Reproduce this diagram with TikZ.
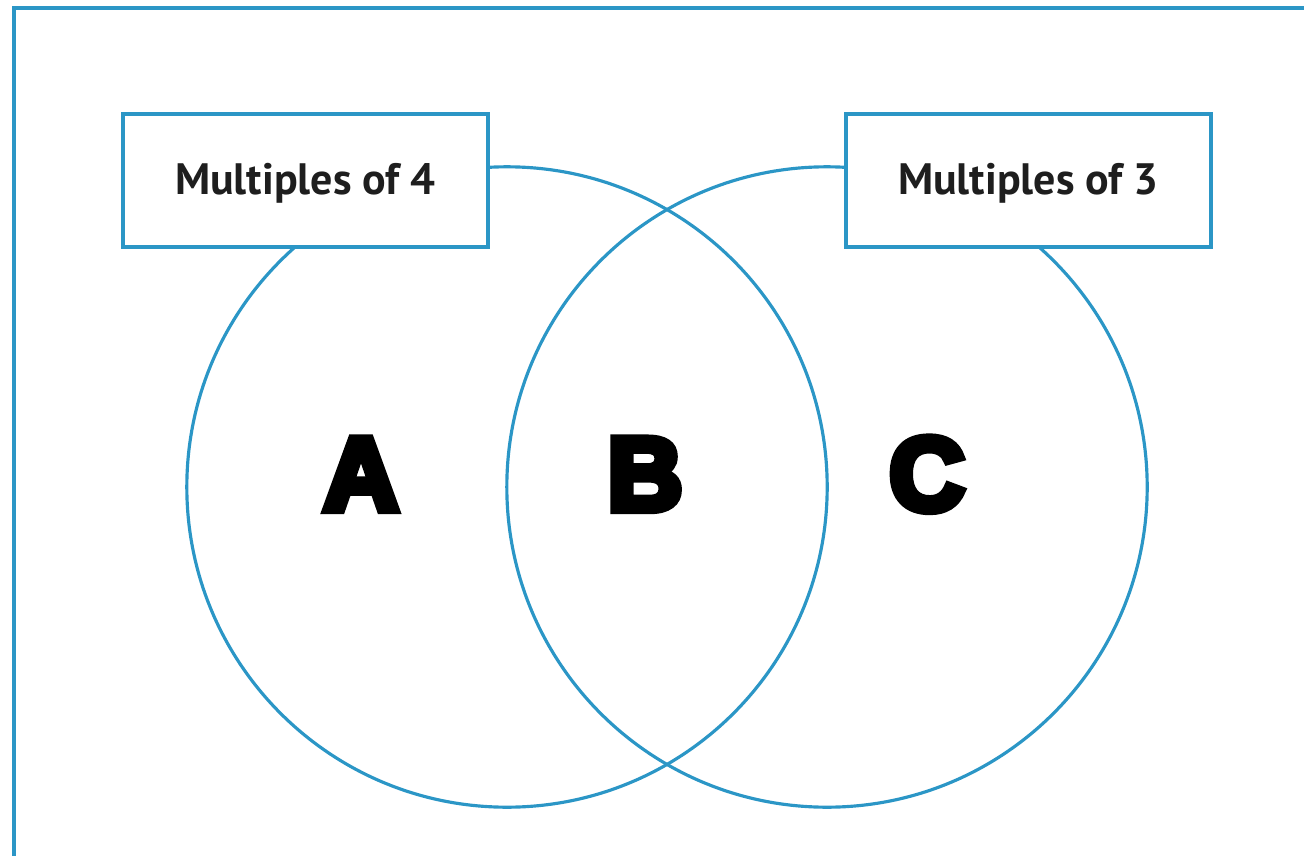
\documentclass[tikz,border=0pt]{standalone}
\usepackage{fontspec}
\setmainfont{PT Sans}
\newfontfamily\letterfont[FakeBold=8]{Liberation Sans Bold}
\usetikzlibrary{positioning}
\definecolor{vennblue}{RGB}{43,150,198}
\definecolor{labelink}{RGB}{30,30,30}

\begin{document}
\begin{tikzpicture}[x=0.01cm, y=-0.01cm,
  set/.style={draw=vennblue, line width=0.9pt, circle, minimum size=6.4cm, inner sep=0pt},
  setlabel/.style={draw=vennblue, line width=1pt, fill=white, minimum width=3.65cm,
    minimum height=1.33cm, inner sep=0pt, text=labelink, text height=8.2pt, text depth=0pt,
    font=\fontsize{12.5}{14}\selectfont\bfseries},
  region/.style={anchor=base, font=\letterfont\fontsize{29.5}{30}\selectfont}]
  \useasboundingbox (0,0) rectangle (1304,855);
  \clip (0,0) rectangle (1304,855);
  % Frame
  \draw[vennblue, line width=1pt] (14,8) rectangle (1340,890);

  % Sets as circles
  \node[set] (four) at (507,487) {};
  \node[set] (three) at (827,487) {};

  % Set names
  \node[setlabel] (fourname) at (305.5,180.5) {Multiples of 4};
  \node[setlabel] (threename) at (1028.5,180.5) {Multiples of 3};

  % Regions
  \node[region] (a) at (361,510) {A};
  \node[region] (b) at (645,510) {B};
  \node[region] (c) at (927,510) {C};
\end{tikzpicture}
\end{document}
